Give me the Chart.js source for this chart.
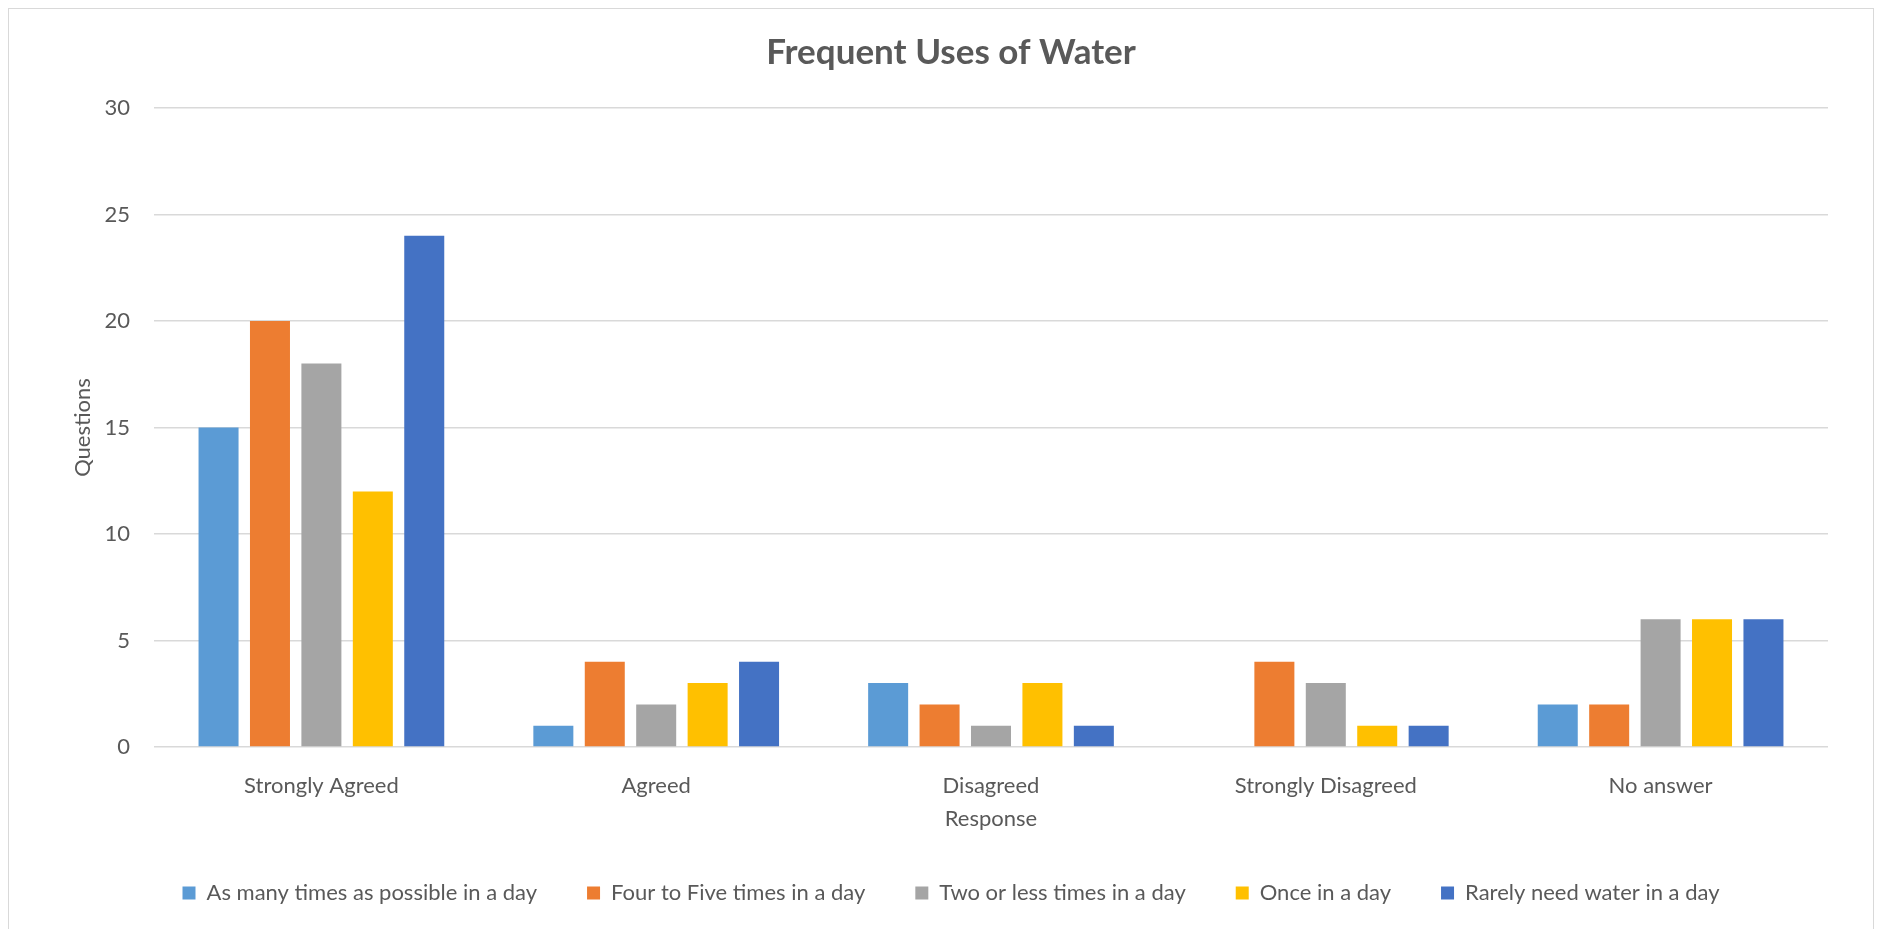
<!DOCTYPE html>
<html>
<head>
<meta charset="utf-8">
<script src="https://cdn.jsdelivr.net/npm/chart.js@4"></script>
<style>
  html, body { margin: 0; padding: 0; background: #ffffff; overflow: hidden; }
  #frame { position: absolute; left: 8px; top: 8px; width: 1866px; height: 940px; border: 1.5px solid #d9d9d9; box-sizing: border-box; }
  #c { position: absolute; left: 0; top: 0; }
</style>
</head>
<body>
<div id="frame"></div>
<canvas id="c" width="1883" height="929"></canvas>
<script>
const categories = ['Strongly Agreed', 'Agreed', 'Disagreed', 'Strongly Disagreed', 'No answer'];
const seriesNames = [
  'As many times as possible in a day',
  'Four to Five times in a day',
  'Two or less times in a day',
  'Once in a day',
  'Rarely need water in a day'
];
const asManyAsPossible = [15, 1, 3, 0, 2];
const fourToFive      = [20, 4, 2, 4, 2];
const twoOrLess       = [18, 2, 1, 3, 6];
const onceADay        = [12, 3, 3, 1, 6];
const rarelyNeed      = [24, 4, 1, 1, 6];
const yTicks = [0, 5, 10, 15, 20, 25, 30];
const seriesColors = ['#5B9BD5', '#ED7D31', '#A5A5A5', '#FFC000', '#4472C4'];

const seriesValues = [asManyAsPossible, fourToFive, twoOrLess, onceADay, rarelyNeed];
const FONT = 'Lato, Carlito, Calibri, "Liberation Sans", sans-serif';
const TXT = '#595959';

function build() {
  const datasets = seriesNames.map((name, i) => ({
    label: name,
    data: seriesValues[i],
    backgroundColor: seriesColors[i],
    borderWidth: 0,
    categoryPercentage: 0.768,
    barPercentage: 0.778
  }));

  new Chart(document.getElementById('c'), {
    type: 'bar',
    data: { labels: categories, datasets },
    options: {
      responsive: false,
      animation: false,
      devicePixelRatio: 1,
      layout: { padding: { left: 74, right: 55, top: 0, bottom: 15 } },
      plugins: {
        tooltip: { enabled: false },
        title: {
          display: true,
          text: 'Frequent Uses of Water',
          color: TXT,
          font: { family: FONT, size: 35, weight: 'bold' },
          padding: { top: 32, bottom: 34 }
        },
        legend: {
          display: true,
          position: 'bottom',
          labels: {
            color: TXT,
            font: { family: FONT, size: 22 },
            boxWidth: 13,
            boxHeight: 13,
            padding: 50
          }
        }
      },
      scales: {
        x: {
          grid: { display: false },
          border: { display: false },
          ticks: { color: TXT, font: { family: FONT, size: 22 }, padding: 18, maxRotation: 0 },
          title: {
            display: true,
            text: 'Response',
            color: TXT,
            font: { family: FONT, size: 22 },
            padding: { top: 0, bottom: 0 }
          },
          afterFit: (s) => { s.height = 85; }
        },
        y: {
          min: 0,
          max: 30,
          afterBuildTicks: (s) => { s.ticks = yTicks.map(v => ({ value: v })); },
          grid: { color: '#D9D9D9', lineWidth: 1.5, drawTicks: false },
          border: { display: false },
          ticks: { color: TXT, font: { family: FONT, size: 22 }, padding: 24 },
          title: {
            display: true,
            text: 'Questions',
            color: TXT,
            font: { family: FONT, size: 22 },
            padding: { top: -4, bottom: 0 }
          },
          afterFit: (s) => { s.width = 80; }
        }
      }
    }
  });
}

if (document.fonts && document.fonts.load) {
  Promise.all([
    document.fonts.load('22px Lato'),
    document.fonts.load('bold 35px Lato')
  ]).then(build, build);
} else {
  build();
}
</script>
</body>
</html>
